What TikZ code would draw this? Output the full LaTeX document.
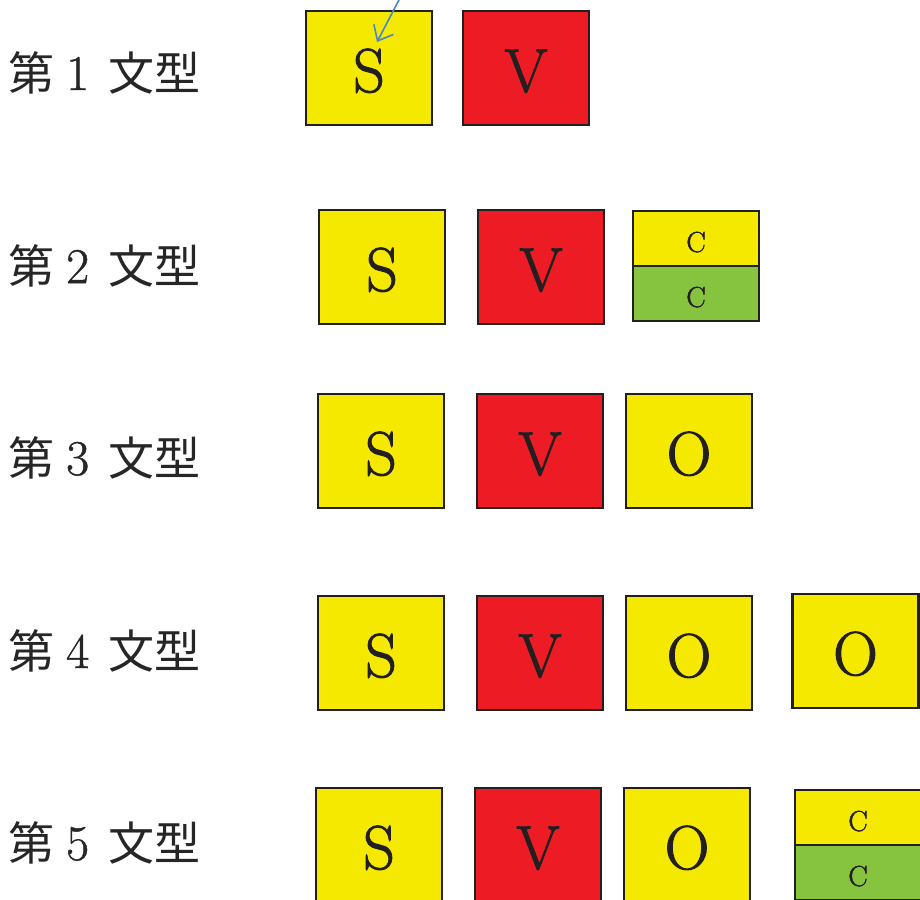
\documentclass[tikz,border=0pt]{standalone}
\usepackage{fontspec}
\newfontfamily\cjk{Noto Sans CJK JP}
\newfontfamily\cardfont{Latin Modern Roman}[FakeBold=1.6]
\newfontfamily\digitfont{Latin Modern Roman}[FakeBold=1.0]
\usetikzlibrary{arrows.meta}
\definecolor{boxyellow}{HTML}{F5E900}
\definecolor{boxred}{HTML}{ED1C24}
\definecolor{boxgreen}{HTML}{86C440}
\definecolor{boxline}{HTML}{231F20}
\definecolor{arrowblue}{HTML}{4A86C8}
\newcommand{\rowlabel}[1]{{\cjk\fontsize{46}{46}\selectfont 第}\hspace{12pt}{\digitfont\fontsize{50}{50}\selectfont #1}\hspace{19pt}{\cjk\fontsize{46}{46}\selectfont 文型}}
\begin{document}
\begin{tikzpicture}[x=1pt,y=-1pt,
  card/.style={draw=boxline, line width=2.5pt, minimum width=126pt, minimum height=114pt,
    inner sep=0pt, font=\cardfont\fontsize{62}{62}\selectfont, text=boxline,
    text height=48pt, text depth=0pt},
  ycard/.style={card, fill=boxyellow},
  rcard/.style={card, fill=boxred},
  halfcard/.style={draw=boxline, line width=2.5pt, minimum width=126pt, minimum height=55pt,
    inner sep=0pt, font=\cardfont\fontsize{29}{29}\selectfont, text=boxline,
    text height=27pt, text depth=0pt},
  ychalf/.style={halfcard, fill=boxyellow},
  gchalf/.style={halfcard, fill=boxgreen},
  lbl/.style={anchor=base west, inner sep=0pt, text=black!85},
  pointer/.style={draw=arrowblue, line width=1.6pt, -{Straight Barb[length=13pt,width=22pt,line width=1.6pt]}}]
\useasboundingbox (0,0) rectangle (920,899);
\clip (0,0) rectangle (920,899);

% labels
\node[lbl] (L1) at (8,90) {\rowlabel{1}};
\node[lbl] (L2) at (8,283) {\rowlabel{2}};
\node[lbl] (L3) at (8,475) {\rowlabel{3}};
\node[lbl] (L4) at (8,668) {\rowlabel{4}};
\node[lbl] (L5) at (8,860) {\rowlabel{5}};

% row 1
\node[ycard] (S1) at (369,68) {S};
\node[rcard] (V1) at (526,68) {V};
\coordinate (arrStart) at (400,-2);
\coordinate (arrTip) at (377,42);
\draw[pointer] (arrStart) -- (arrTip);

% row 2
\node[ycard] (S2) at (382,267) {S};
\node[rcard] (V2) at (541,267) {V};
\node[ychalf] (C2a) at (696,238.5) {C};
\node[gchalf] (C2b) at (696,293.5) {C};

% row 3
\node[ycard] (S3) at (381,451) {S};
\node[rcard] (V3) at (540,451) {V};
\node[ycard] (O3) at (689,451) {O};

% row 4
\node[ycard] (S4) at (381,653) {S};
\node[rcard] (V4) at (540,653) {V};
\node[ycard] (O4) at (689,653) {O};
\node[ycard] (O4b) at (855.5,651) {O};

% row 5
\node[ycard] (S5) at (379,845) {S};
\node[rcard] (V5) at (538,845) {V};
\node[ycard] (O5) at (687,845) {O};
\node[ychalf] (C5a) at (858,817.5) {C};
\node[gchalf] (C5b) at (858,872.5) {C};
\end{tikzpicture}
\end{document}
